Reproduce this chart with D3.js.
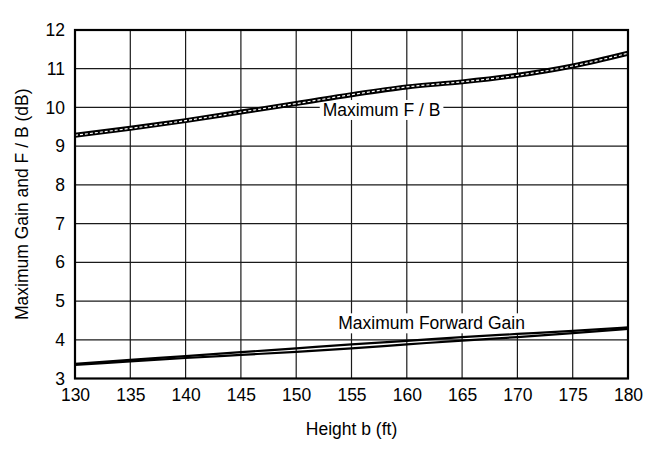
<!DOCTYPE html>
<html>
<head>
<meta charset="utf-8">
<script src="https://cdn.jsdelivr.net/npm/d3@7"></script>
<style>
  html, body { margin: 0; padding: 0; background: #fff; }
  svg { display: block; font-family: "Liberation Sans", Arial, sans-serif; }
</style>
</head>
<body>
<svg id="chart" width="653" height="456"></svg>
<script>
const heights = [130, 135, 140, 145, 150, 155, 160, 165, 170, 175, 180];
const fbValues = [9.28, 9.46, 9.66, 9.88, 10.1, 10.33, 10.53, 10.66, 10.83, 11.07, 11.4];
const gainUpper = [3.38, 3.48, 3.58, 3.68, 3.78, 3.88, 3.97, 4.07, 4.15, 4.23, 4.32];
const gainLower = [3.35, 3.44, 3.53, 3.61, 3.69, 3.78, 3.88, 3.98, 4.07, 4.17, 4.28];
const xTicks = [130, 135, 140, 145, 150, 155, 160, 165, 170, 175, 180];
const yTicks = [3, 4, 5, 6, 7, 8, 9, 10, 11, 12];
const xTitle = "Height b (ft)";
const yTitle = "Maximum Gain and F / B (dB)";
const fbLabel = "Maximum F / B";
const gainLabel = "Maximum Forward Gain";

const FS = 17.5;
const svg = d3.select("#chart");
const L = 75, R = 628, T = 30, B = 378.5;
const x = d3.scaleLinear().domain([130, 180]).range([L, R]);
const y = d3.scaleLinear().domain([3, 12]).range([B, T]);

// grid
const g = svg.append("g");
g.selectAll(".vg").data(xTicks).join("line")
  .attr("x1", d => x(d)).attr("x2", d => x(d)).attr("y1", T).attr("y2", B)
  .attr("stroke", "#1a1a1a").attr("stroke-width", 1.2);
g.selectAll(".hg").data(yTicks).join("line")
  .attr("x1", L).attr("x2", R).attr("y1", d => y(d)).attr("y2", d => y(d))
  .attr("stroke", "#1a1a1a").attr("stroke-width", 1.2);

// axes tick labels
const xAxis = d3.axisBottom(x).tickValues(xTicks).tickSize(0).tickPadding(10).tickFormat(d3.format("d"));
const yAxis = d3.axisLeft(y).tickValues(yTicks).tickSize(0).tickPadding(10).tickFormat(d3.format("d"));
const gx = svg.append("g").attr("transform", `translate(0,${B})`).call(xAxis);
const gy = svg.append("g").attr("transform", `translate(${L},0)`).call(yAxis);
[gx, gy].forEach(a => {
  a.attr("font-size", FS).attr("font-family", "'Liberation Sans', Arial, sans-serif");
  a.select(".domain").remove();
  a.selectAll("text").attr("fill", "#000");
});
gx.selectAll("text").attr("dy", "0.72em").attr("y", 10);

// in-plot labels with white background (drawn before curves)
function label(txt, xv, yv) {
  const t = svg.append("text").attr("x", x(xv)).attr("y", y(yv))
    .attr("font-size", FS).attr("fill", "#000").text(txt);
  const bb = t.node().getBBox();
  svg.insert("rect", () => t.node())
    .attr("x", bb.x - 3).attr("y", bb.y).attr("width", bb.width + 6).attr("height", bb.height)
    .attr("fill", "#fff");
}
label(fbLabel, 152.4, 9.78);
label(gainLabel, 153.8, 4.27);

// curves
const line = vals => d3.line().x((d, i) => x(heights[i])).y(d => y(d)).curve(d3.curveMonotoneX)(vals);

svg.append("path").attr("d", line(fbValues)).attr("fill", "none")
  .attr("stroke", "#000").attr("stroke-width", 5);
svg.append("path").attr("d", line(fbValues)).attr("fill", "none")
  .attr("stroke", "#fff").attr("stroke-width", 1.2).attr("stroke-dasharray", "3,2");

svg.append("path").attr("d", line(gainUpper)).attr("fill", "none")
  .attr("stroke", "#000").attr("stroke-width", 2.2);
svg.append("path").attr("d", line(gainLower)).attr("fill", "none")
  .attr("stroke", "#000").attr("stroke-width", 2.2);

// frame
svg.append("rect").attr("x", L).attr("y", T).attr("width", R - L).attr("height", B - T)
  .attr("fill", "none").attr("stroke", "#000").attr("stroke-width", 2.2);

// titles
svg.append("text").attr("x", (L + R) / 2).attr("y", 435).attr("text-anchor", "middle")
  .attr("font-size", FS).attr("fill", "#000").text(xTitle);
svg.append("text").attr("transform", `translate(28,${(T + B) / 2}) rotate(-90)`)
  .attr("text-anchor", "middle").attr("font-size", FS).attr("fill", "#000").text(yTitle);
</script>
</body>
</html>
